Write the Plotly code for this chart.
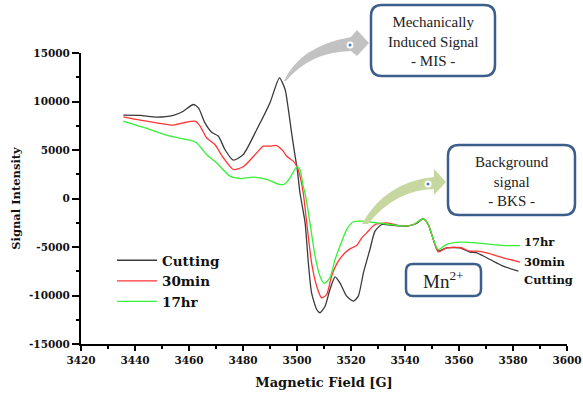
import plotly.graph_objects as go

# ---------------- data ----------------
cut_x = [3435.7, 3441.9, 3448.0, 3454.2, 3457.9, 3461.6, 3463.5, 3465.9, 3468.4, 3470.9,
         3473.3, 3476.4, 3480.1, 3485.1, 3490.0, 3493.5, 3495.6, 3496.8, 3498.0, 3499.3,
         3500.1, 3501.1, 3503.0, 3504.2, 3505.4, 3507.3, 3508.5, 3510.4, 3512.2, 3514.1,
         3515.9, 3518.4, 3520.9, 3522.7, 3524.6, 3527.0, 3528.9, 3531.4, 3535.7, 3540.6,
         3544.3, 3546.8, 3548.6, 3550.5, 3552.3, 3555.4, 3560.4, 3564.0, 3566.6, 3571.5,
         3576.4, 3582.0]
cut_y = [8590, 8560, 8380, 8560, 9000, 9690, 9350, 7800, 6840, 6420,
         5050, 3950, 4540, 7110, 9870, 12440, 11240, 9180, 6770, 4360,
         2990, 590, -2510, -6630, -9720, -11440, -11780, -11100, -9380, -8070,
         -8690, -10070, -10590, -10070, -7660, -5260, -3370, -2680, -2780, -2850,
         -2580, -2090, -2680, -4230, -5430, -5090, -5090, -5530, -5600, -6290,
         -6980, -7490]

m30_x = [3435.7, 3441.9, 3448.0, 3454.2, 3457.9, 3462.2, 3464.1, 3466.5, 3469.6, 3472.7,
         3476.4, 3480.1, 3485.1, 3487.5, 3490.0, 3492.5, 3494.9, 3496.2, 3498.6, 3499.9,
         3501.1, 3502.3, 3503.6, 3505.4, 3507.3, 3509.1, 3511.0, 3512.8, 3515.3, 3517.8,
         3519.6, 3522.1, 3524.0, 3525.8, 3528.9, 3533.2, 3539.4, 3543.1, 3546.8, 3548.6,
         3550.5, 3552.3, 3555.4, 3560.4, 3564.0, 3566.6, 3570.2, 3576.4, 3582.6]
m30_y = [8420, 8080, 7800, 7560, 7800, 7970, 7460, 6260, 5570, 4200,
         2990, 3270, 4710, 5390, 5390, 5460, 4880, 4360, 3850, 3330,
         2300, 600, -2510, -6630, -9040, -10240, -9900, -8010, -6460, -5600,
         -5190, -4850, -4050, -3540, -2680, -2510, -2850, -2680, -2090, -2680,
         -4230, -5500, -5090, -5050, -5430, -5430, -5600, -6110, -6560]

h17_x = [3435.7, 3439.4, 3445.6, 3453.0, 3460.4, 3462.8, 3466.5, 3470.2, 3475.2, 3478.9,
         3483.8, 3488.8, 3493.7, 3495.5, 3497.4, 3499.9, 3501.1, 3502.3, 3503.1, 3504.8,
         3506.7, 3508.5, 3510.1, 3512.2, 3514.1, 3515.9, 3518.4, 3520.9, 3524.0, 3529.5,
         3534.4, 3539.4, 3543.1, 3546.8, 3548.6, 3550.5, 3552.3, 3555.4, 3560.4, 3566.6,
         3576.4, 3582.6]
h17_y = [7970, 7630, 7110, 6420, 6010, 5740, 4540, 3680, 2300, 2060,
         2200, 1960, 1440, 1500, 2130, 3270, 2990, 1270, 400, -2510,
         -5950, -8010, -8760, -8180, -6290, -4920, -3200, -2400, -2340, -2510,
         -2680, -2850, -2680, -2090, -2680, -4230, -5260, -4740, -4500, -4570,
         -4850, -4850]

series_names = ["Cutting", "30min", "17hr"]
series_colors = ["#3a3a3a", "#ff3535", "#35f035"]

x_ticks = [3420, 3440, 3460, 3480, 3500, 3520, 3540, 3560, 3580, 3600]
x_ticklabels = ["3420", "3440", "3460", "3480", "3500", "3520", "3540", "3560", "3580", "3600"]
y_ticks = [-15000, -10000, -5000, 0, 5000, 10000, 15000]
y_ticklabels = ["-15000", "-10000", "-5000", "0", "5000", "10000", "15000"]

# end-of-curve labels (text, y position in data units)
end_labels = ["17hr", "30min", "Cutting"]
end_label_y = [-4480, -6500, -8450]
end_label_x = 3583.2

# ---------------- figure ----------------
W, H = 583, 394
ML, MR, MT, MB = 81, 16, 53, 50
PW, PH = W - ML - MR, H - MT - MB


def px(x):
    return (x - ML) / PW


def py(y):
    return (H - MB - y) / PH


def pt(x, y):
    return f"{px(x):.5f},{py(y):.5f}"


def rrect(x0, y0, x1, y1, r):
    return (f"M {pt(x0 + r, y0)} L {pt(x1 - r, y0)} Q {pt(x1, y0)} {pt(x1, y0 + r)} "
            f"L {pt(x1, y1 - r)} Q {pt(x1, y1)} {pt(x1 - r, y1)} "
            f"L {pt(x0 + r, y1)} Q {pt(x0, y1)} {pt(x0, y1 - r)} "
            f"L {pt(x0, y0 + r)} Q {pt(x0, y0)} {pt(x0 + r, y0)} Z")


fig = go.Figure()
for xs, ys, name, col in zip([cut_x, m30_x, h17_x], [cut_y, m30_y, h17_y],
                             series_names, series_colors):
    fig.add_trace(go.Scatter(x=xs, y=ys, mode="lines", name=name,
                             line=dict(color=col, width=1.3, shape="spline", smoothing=0.6)))

serif = "Liberation Serif, Times New Roman, serif"
wide = "DejaVu Serif, serif"

shapes = []
# arrows
gray_arrow = (f"M {pt(284, 81)} Q {pt(300, 46)} {pt(351, 37)} L {pt(357, 30)} L {pt(369, 43)} "
              f"L {pt(357, 56)} L {pt(351, 51)} Q {pt(310, 52)} {pt(286, 81)} Z")
green_arrow = (f"M {pt(362, 224)} Q {pt(385, 182)} {pt(434, 177)} L {pt(434, 169)} L {pt(446, 182)} "
               f"L {pt(434, 195)} L {pt(434, 189)} Q {pt(395, 190)} {pt(368, 224)} Z")
shapes.append(dict(type="path", xref="paper", yref="paper", path=gray_arrow,
                   fillcolor="#c2c2c2", line=dict(width=0), layer="above"))
shapes.append(dict(type="path", xref="paper", yref="paper", path=green_arrow,
                   fillcolor="#c6d8a0", line=dict(width=0), layer="above"))
for cx, cy in [(350, 45), (428, 184)]:
    shapes.append(dict(type="circle", xref="paper", yref="paper",
                       x0=px(cx - 3.5), x1=px(cx + 3.5), y0=py(cy + 3.5), y1=py(cy - 3.5),
                       fillcolor="white", line=dict(width=0)))
    shapes.append(dict(type="circle", xref="paper", yref="paper",
                       x0=px(cx - 1.5), x1=px(cx + 1.5), y0=py(cy + 1.5), y1=py(cy - 1.5),
                       fillcolor="#4f7fc0", line=dict(width=0)))
# boxes
box_col = "#3c5e8c"
for (x0, y0, x1, y1, r) in [(371, 5, 495, 76, 11), (448, 145, 575, 215, 11), (406, 264, 481, 296, 7)]:
    shapes.append(dict(type="path", xref="paper", yref="paper", path=rrect(x0, y0, x1, y1, r),
                       fillcolor="white", line=dict(color=box_col, width=2.5)))

annotations = []
annotations.append(dict(xref="paper", yref="paper", x=px(433), y=py(42),
                        xanchor="center", yanchor="middle",
                        text="Mechanically<br>Induced Signal<br>- MIS -", showarrow=False,
                        font=dict(family=serif, size=15, color="#222")))
annotations.append(dict(xref="paper", yref="paper", x=px(511.5), y=py(181),
                        xanchor="center", yanchor="middle",
                        text="Background<br>signal<br>- BKS -", showarrow=False,
                        font=dict(family=serif, size=15, color="#222")))
annotations.append(dict(xref="paper", yref="paper", x=px(443.5), y=py(280),
                        xanchor="center", yanchor="middle",
                        text="Mn<sup>2+</sup>", showarrow=False,
                        font=dict(family=serif, size=19, color="#222")))
for t, yv in zip(end_labels, end_label_y):
    annotations.append(dict(x=end_label_x, y=yv, xref="x", yref="y", text=t, showarrow=False,
                            xanchor="left", yanchor="middle",
                            font=dict(family=wide, size=11.5, color="#111", weight="bold")))

axis_common = dict(showline=True, linecolor="black", linewidth=2, ticks="outside",
                   tickwidth=2, tickcolor="black", showgrid=False, zeroline=False,
                   automargin=False,
                   tickfont=dict(family=wide, size=10.5, color="#111", weight="bold"))

fig.update_layout(
    width=W, height=H,
    margin=dict(l=ML, r=MR, t=MT, b=MB, pad=0, autoexpand=False),
    paper_bgcolor="white", plot_bgcolor="white",
    xaxis=dict(range=[3420, 3600], tickmode="array", tickvals=x_ticks, ticktext=x_ticklabels,
               ticklen=5,
               minor=dict(dtick=10, tick0=3420, ticklen=3, tickwidth=1.5, tickcolor="black", ticks="outside"),
               title=dict(text="Magnetic Field [G]", standoff=13,
                          font=dict(family=wide, size=13, color="#111", weight="bold")),
               **axis_common),
    yaxis=dict(range=[-15000, 15000], tickmode="array", tickvals=y_ticks, ticktext=y_ticklabels,
               ticklen=7,
               minor=dict(dtick=2500, tick0=0, ticklen=3, tickwidth=1.5, tickcolor="black", ticks="outside"),
               title=dict(text="Signal Intensity", standoff=6,
                          font=dict(family=wide, size=11.5, color="#111", weight="bold")),
               **axis_common),
    legend=dict(x=px(112), y=py(245), xanchor="left", yanchor="top",
                itemwidth=40,
                bgcolor="rgba(0,0,0,0)", borderwidth=0,
                font=dict(family=wide, size=13.5, color="#111", weight="bold")),
    shapes=shapes,
    annotations=annotations,
)

fig.write_html("out.html")
